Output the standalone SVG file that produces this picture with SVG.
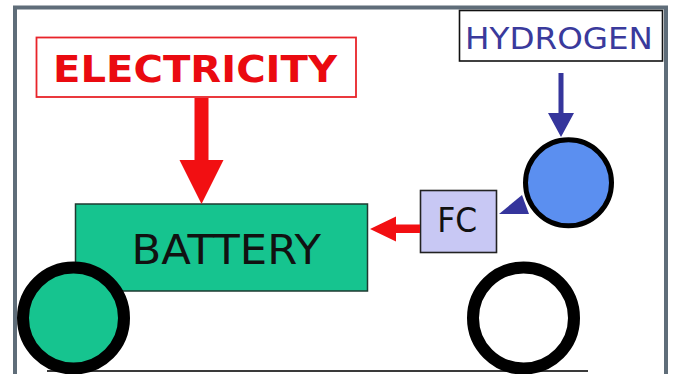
<svg xmlns="http://www.w3.org/2000/svg" width="673" height="374" viewBox="0 0 673 374">
<style>
.lbl{font-family:"DejaVu Sans","Verdana",sans-serif}
.ring{stroke:#000;stroke-width:12}
.red{fill:#f20f12}
.blue{fill:#35359c}
</style>
<rect x="0" y="0" width="673" height="374" fill="#fff"/>
<rect x="15" y="7.5" width="651" height="400" fill="none" stroke="#5f6d79" stroke-width="4"/>
<line x1="47" y1="371" x2="588" y2="371" stroke="#3a3a3a" stroke-width="2"/>
<g id="electricity">
<rect x="36.5" y="37.5" width="319.5" height="59.5" fill="#fff" stroke="#e8242a" stroke-width="1.8"/>
<text class="lbl" x="53" y="81.5" font-size="38" font-weight="bold" fill="#ea0a10" textLength="284" lengthAdjust="spacingAndGlyphs">ELECTRICITY</text>
</g>
<g id="hydrogen">
<rect x="459.5" y="10.5" width="203" height="50.5" fill="#fff" stroke="#111" stroke-width="1.6"/>
<text class="lbl" x="465" y="49.3" font-size="31" fill="#3a3a9c" textLength="188" lengthAdjust="spacingAndGlyphs">HYDROGEN</text>
</g>
<g id="battery">
<rect x="75.5" y="204" width="292" height="87" fill="#16c48f" stroke="#1e3a30" stroke-width="1.5"/>
<text class="lbl" x="131.5" y="264" font-size="40" fill="#111" textLength="189.5" lengthAdjust="spacingAndGlyphs">BATTERY</text>
</g>
<g id="fc">
<rect x="420.5" y="190.5" width="76" height="62" fill="#c8c8f4" stroke="#222" stroke-width="1.6"/>
<text class="lbl" x="437.3" y="232.3" font-size="34" fill="#111" textLength="40" lengthAdjust="spacingAndGlyphs">FC</text>
</g>
<g id="tank">
<circle cx="568.5" cy="182.8" r="43" fill="#5b8ff0" stroke="#000" stroke-width="5"/>
</g>
<g id="wheel-front">
<circle class="ring" cx="73.5" cy="318" r="50.5" fill="#16c48f"/>
</g>
<g id="wheel-rear">
<circle class="ring" cx="523.5" cy="318" r="50.5" fill="#fff"/>
</g>
<g id="connectors">
<polygon class="red" points="194.5,98 208.5,98 208.5,160 223.5,160 201.5,204 179.5,160 194.5,160"/>
<polygon class="red" points="370,229 396,216.5 396,224.5 420,224.5 420,233 396,233 396,241.5"/>
<polygon class="blue" points="558.5,73 563.5,73 563.5,113 574,113 561,137 548,113 558.5,113"/>
<polygon class="blue" points="499,214 529,214 522,195"/>
</g>
</svg>
